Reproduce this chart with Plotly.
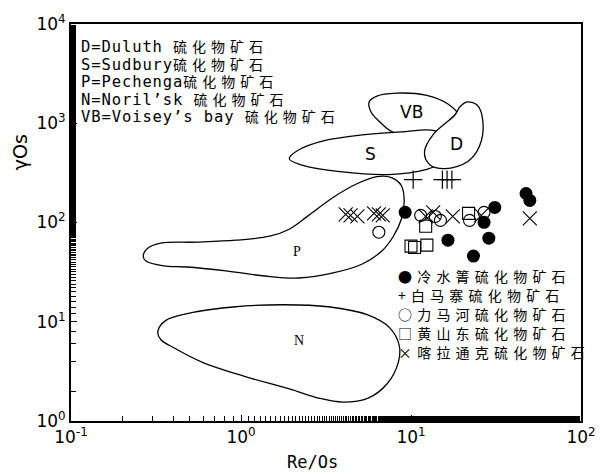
import math
import plotly.graph_objects as go

# ---------------- data ----------------
# 冷水箐 (filled circles)
lsq_x = [9.24, 31.1, 26.9, 16.5, 28.7, 23.3, 47.5, 50.0]
lsq_y = [126.5, 142, 100.5, 66.3, 69.5, 45.9, 196, 166.8]
# 白马寨 (plus)
bmz_x = [10.3, 15.3, 16.3, 17.4]
bmz_y = [270, 270, 270, 270]
# 力马河 (open circles)
lmh_x = [6.47, 11.4, 13.9, 14.9, 22.1, 26.9]
lmh_y = [79.8, 118, 115, 105, 105, 126.5]
# 黄山东 (open squares)
hsd_x = [12.2, 10.0, 10.5, 12.4, 21.8]
hsd_y = [91.6, 57.8, 56.0, 59.1, 123.7]
# 喀拉通克 (crosses)
kltk_x = [4.13, 4.41, 4.84, 6.06, 6.47, 6.82, 12.2, 13.5, 17.6, 25.9, 50.0]
kltk_y = [120.8, 118, 115.3, 123.7, 120.8, 118, 115.3, 126.5, 115.3, 118, 110]

# field outlines (Re/Os, γOs)
vb_x = [5.67, 6.30, 8.20, 12.2, 16.5, 19.35, 18.8, 13.0, 7.99, 6.56, 5.82, 5.67]
vb_y = [1634, 1876, 2011, 1920, 1561, 1156, 857, 781, 800, 1030, 1297, 1634]
s_x = [1.922, 2.19, 3.05, 5.17, 8.77, 13.9, 16.9, 15.3, 12.2, 7.38, 3.82, 2.34, 1.922]
s_y = [439, 540, 665, 764, 818, 837, 650, 410, 341, 304, 325, 374, 439]
d_x = [18.1, 13.6, 12.0, 12.9, 15.9, 21.5, 25.2, 26.5, 24.5, 21.2, 19.35, 18.1]
d_y = [1211, 781, 516, 382, 349, 410, 579, 1030, 1525, 1634, 1456, 1211]
p_x = [0.266, 0.284, 0.337, 0.549, 0.930, 1.476, 1.922, 2.50, 3.48, 4.84, 6.30, 7.68,
       8.77, 9.12, 8.77, 7.88, 6.73, 5.17, 3.48, 2.19, 1.381, 0.815, 0.481, 0.350,
       0.276, 0.266]
p_y = [45.9, 55.2, 61.9, 63.4, 66.3, 72.7, 85.5, 118, 178.7, 247, 290, 283,
       236, 163, 107.7, 72.7, 51.5, 38.2, 31.0, 27.6, 28.9, 32.5, 35.6, 36.5,
       40.9, 45.9]
n_x = [0.324, 0.360, 0.513, 0.930, 1.799, 3.26, 5.52, 7.48, 8.53, 8.42, 7.28, 5.60,
       3.97, 2.86, 1.946, 1.047, 0.594, 0.410, 0.337, 0.324]
n_y = [7.96, 10.26, 12.33, 14.16, 14.84, 14.16, 11.78, 8.73, 5.76, 3.90, 2.40, 1.70,
       1.55, 1.70, 2.09, 2.82, 3.90, 5.38, 6.62, 7.96]

field_labels = ["VB", "S", "D", "P", "N"]
field_label_x = [10.0, 5.75, 18.4, 2.14, 2.19]
field_label_y = [1297, 493, 621, 51.5, 6.47]

# note lines: (latin part, chinese part)
note_latin = ["D=Duluth ", "S=Sudbury", "P=Pechenga", "N=Noril’sk ", "VB=Voisey’s bay "]
note_cjk = ["硫化物矿石", "硫化物矿石", "硫化物矿石", "硫化物矿石", "硫化物矿石"]
legend_lines = ["●冷水箐硫化物矿石", "+白马寨硫化物矿石", "○力马河硫化物矿石",
                "□黄山东硫化物矿石", "×喀拉通克硫化物矿石"]

x_tickvals = [0.1, 1, 10, 100]
x_ticktext = ["10<sup>-1</sup>", "10<sup>0</sup>", "10<sup>1</sup>", "10<sup>2</sup>"]
y_tickvals = [1, 10, 100, 1000, 10000]
y_ticktext = ["10<sup>0</sup>", "10<sup>1</sup>", "10<sup>2</sup>", "10<sup>3</sup>", "10<sup>4</sup>"]

# ---------------- figure ----------------
W, H = 608, 474
L, R, T, B = 71, 15, 21, 53
pw, ph = W - L - R, H - T - B

def px(xp):
    return (xp - L) / pw

def py(yp):
    return (H - B - yp) / ph

fig = go.Figure()
line = dict(color="black", width=1.3, shape="spline", smoothing=1.0)
fig.add_trace(go.Scatter(x=vb_x, y=vb_y, mode="lines", line=line, showlegend=False,
                         hoverinfo="skip"))
fig.add_trace(go.Scatter(x=s_x, y=s_y, mode="lines", line=line, fill="toself",
                         fillcolor="white", showlegend=False, hoverinfo="skip"))
fig.add_trace(go.Scatter(x=d_x, y=d_y, mode="lines", line=line, fill="toself",
                         fillcolor="white", showlegend=False, hoverinfo="skip"))
fig.add_trace(go.Scatter(x=p_x, y=p_y, mode="lines", line=line, showlegend=False,
                         hoverinfo="skip"))
fig.add_trace(go.Scatter(x=n_x, y=n_y, mode="lines", line=line, showlegend=False,
                         hoverinfo="skip"))

fig.add_trace(go.Scatter(x=lsq_x, y=lsq_y, mode="markers", name="冷水箐硫化物矿石",
                         marker=dict(symbol="circle", size=13, color="black")))
fig.add_trace(go.Scatter(x=bmz_x, y=bmz_y, mode="markers", name="白马寨硫化物矿石",
                         marker=dict(symbol="cross-thin-open", size=13, color="black",
                                     line=dict(color="black", width=1.2))))
fig.add_trace(go.Scatter(x=lmh_x, y=lmh_y, mode="markers", name="力马河硫化物矿石",
                         marker=dict(symbol="circle-open", size=12, color="black",
                                     line=dict(color="black", width=1.1))))
fig.add_trace(go.Scatter(x=hsd_x, y=hsd_y, mode="markers", name="黄山东硫化物矿石",
                         marker=dict(symbol="square-open", size=12, color="black",
                                     line=dict(color="black", width=1.1))))
fig.add_trace(go.Scatter(x=kltk_x, y=kltk_y, mode="markers", name="喀拉通克硫化物矿石",
                         marker=dict(symbol="x-thin-open", size=14, color="black",
                                     line=dict(color="black", width=1.1))))

ann = []
for lab, lx, ly in zip(field_labels, field_label_x, field_label_y):
    serif = lab in ("P", "N")
    ann.append(dict(x=math.log10(lx), y=math.log10(ly),
                    xref="x", yref="y", text=lab, showarrow=False,
                    font=dict(family="Liberation Serif" if serif else "DejaVu Sans",
                              size=14 if serif else 17, color="black")))

# notes block (top-left): line pitch from base font size (1.3 em)
note_pitch = 17.6
note_rows = []
for a, c in zip(note_latin, note_cjk):
    note_rows.append(
        '<span style="font-size:15.5px;letter-spacing:0.9px">%s</span>'
        '<span style="font-size:14px;letter-spacing:5px">%s</span>' % (a, c))
ann.append(dict(x=px(79), y=py(79.5), xref="paper", yref="paper",
                text="<br>".join(note_rows),
                showarrow=False, xanchor="left", yanchor="middle", align="left",
                font=dict(family="DejaVu Sans Mono, Noto Sans CJK SC",
                          size=note_pitch / 1.3, color="black")))

# symbol key (bottom-right)
leg_pitch = 19.0
leg_rows = ['<span style="font-size:14px;letter-spacing:5.2px">%s</span>' % t
            for t in legend_lines]
ann.append(dict(x=px(404), y=py(313), xref="paper", yref="paper",
                text="<br>".join(leg_rows),
                showarrow=False, xanchor="left", yanchor="middle", align="left",
                font=dict(family="Noto Sans CJK SC", size=leg_pitch / 1.3,
                          color="black")))

ann.append(dict(x=px(19), y=py(150), xref="paper", yref="paper", text="γOs",
                textangle=-90, showarrow=False, xanchor="center", yanchor="middle",
                font=dict(family="DejaVu Sans", size=19, color="black")))
ann.append(dict(x=px(318), y=py(462), xref="paper", yref="paper", text="Re/Os",
                showarrow=False, xanchor="center", yanchor="middle",
                font=dict(family="DejaVu Sans Mono", size=17, color="black")))

axis_common = dict(type="log", showline=True, linecolor="black", linewidth=2,
                   mirror=True, ticks="inside", ticklen=6, tickwidth=1.2,
                   tickcolor="black", showgrid=False, zeroline=False,
                   tickfont=dict(family="DejaVu Sans", size=17, color="black"),
                   minor=dict(ticks="inside", ticklen=5, tickwidth=1,
                              tickcolor="black", showgrid=False))

fig.update_layout(
    width=W, height=H,
    margin=dict(l=L, r=R, t=T, b=B),
    paper_bgcolor="white", plot_bgcolor="white",
    showlegend=False,
    annotations=ann,
    xaxis=dict(range=[-1, 2], tickvals=x_tickvals, ticktext=x_ticktext, **axis_common),
    yaxis=dict(range=[0, 4], tickvals=y_tickvals, ticktext=y_ticktext, **axis_common),
)

fig.write_html("out.html")
